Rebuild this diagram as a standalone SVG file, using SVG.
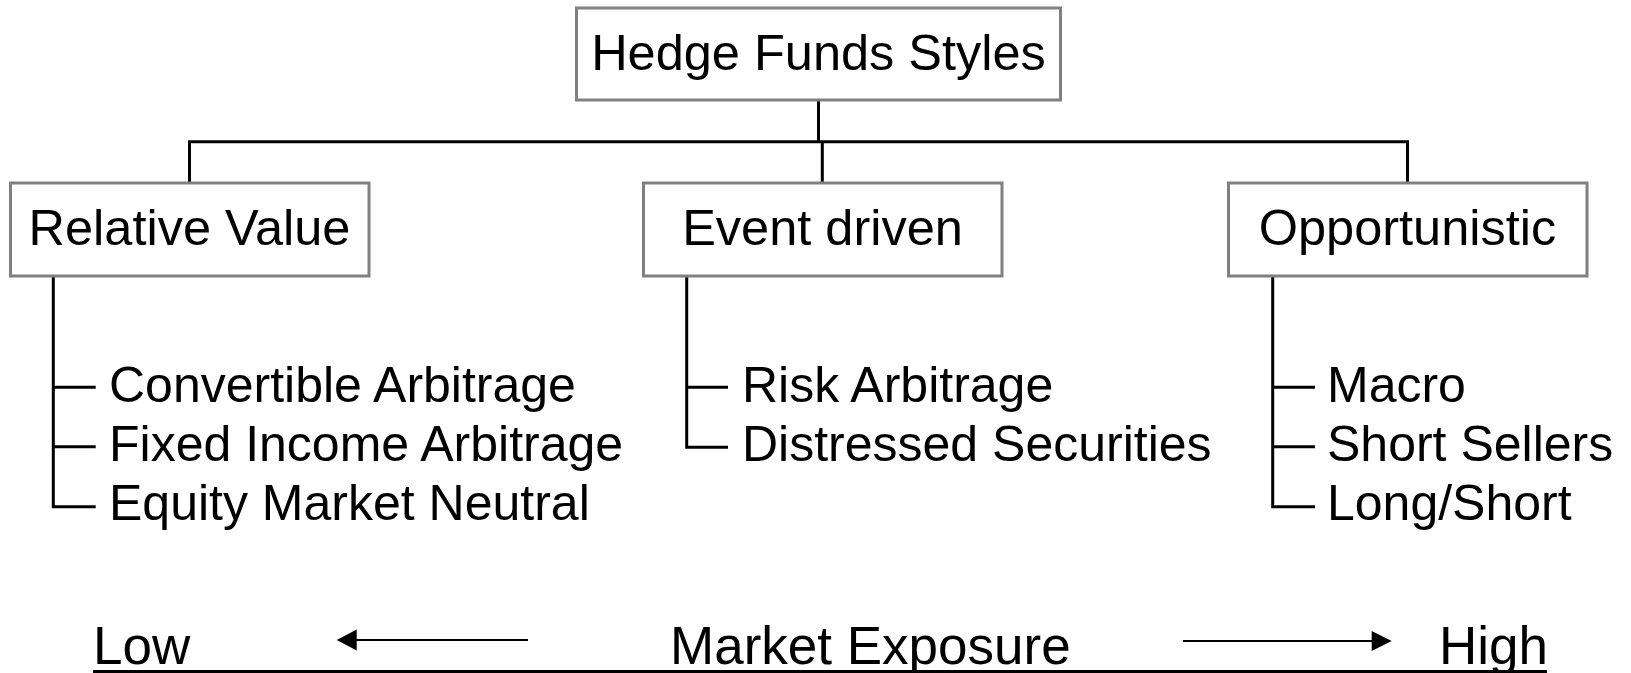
<svg xmlns="http://www.w3.org/2000/svg" width="1631" height="673" viewBox="0 0 1631 673">
<style>
.box{fill:#fff;stroke:#808080;stroke-width:3}
.t{font-family:"Liberation Sans",Arial,sans-serif;fill:#000}
.lbl{font-size:50.5px;text-anchor:middle}
.item{font-size:50px}
.axis{font-size:53px}
.conn{fill:none;stroke:#000;stroke-width:3;stroke-linejoin:miter;stroke-linecap:butt}
.arr{fill:none;stroke:#000;stroke-width:2}
</style>
<rect width="1631" height="673" fill="#fff"/>
<g id="connectors">
<polyline class="conn" points="818.5,100 818.5,141.7"/>
<polyline class="conn" points="189.5,182.7 189.5,141.7 1407.5,141.7 1407.5,182.7"/>
<polyline class="conn" points="822.3,141.7 822.3,182.7"/>
<polyline class="conn" points="53.3,276 53.3,506.7 95.7,506.7"/>
<line class="conn" x1="53.3" y1="387.3" x2="95.7" y2="387.3"/>
<line class="conn" x1="53.3" y1="446.7" x2="95.7" y2="446.7"/>
<polyline class="conn" points="686.7,276 686.7,447.3 728,447.3"/>
<line class="conn" x1="686.7" y1="387.3" x2="728" y2="387.3"/>
<polyline class="conn" points="1272.7,276 1272.7,506.7 1315,506.7"/>
<line class="conn" x1="1272.7" y1="387.3" x2="1315" y2="387.3"/>
<line class="conn" x1="1272.7" y1="446.7" x2="1315" y2="446.7"/>
</g>
<g id="root">
<rect class="box" x="576.5" y="8" width="484" height="92"/>
<text class="t lbl" x="818.5" y="70">Hedge Funds Styles</text>
</g>
<g id="relative-value">
<rect class="box" x="10.5" y="183" width="358.5" height="93"/>
<text class="t lbl" x="189.5" y="245">Relative Value</text>
<text class="t item" x="109" y="401.7">Convertible Arbitrage</text>
<text class="t item" x="109" y="460.7">Fixed Income Arbitrage</text>
<text class="t item" x="109" y="520">Equity Market Neutral</text>
</g>
<g id="event-driven">
<rect class="box" x="643.5" y="183" width="358.5" height="93"/>
<text class="t lbl" x="822.5" y="245">Event driven</text>
<text class="t item" x="742" y="401.7">Risk Arbitrage</text>
<text class="t item" x="742" y="460.5">Distressed Securities</text>
</g>
<g id="opportunistic">
<rect class="box" x="1228.5" y="183" width="358.5" height="93"/>
<text class="t lbl" x="1407.5" y="245">Opportunistic</text>
<text class="t item" x="1327" y="401.7">Macro</text>
<text class="t item" x="1327" y="460.5">Short Sellers</text>
<text class="t item" x="1327" y="520">Long/Short</text>
</g>
<g id="axis">
<text class="t axis" x="93" y="664">Low</text>
<text class="t axis" x="670" y="664">Market Exposure</text>
<text class="t axis" x="1439" y="664">High</text>
<line x1="528" y1="640" x2="354" y2="640" class="arr"/>
<polygon points="336.7,640 356.7,629.5 356.7,650.5" fill="#000"/>
<line x1="1183" y1="641" x2="1374" y2="641" class="arr"/>
<polygon points="1391.7,641 1371.7,631 1371.7,651" fill="#000"/>
<line x1="93" y1="671.5" x2="1547" y2="671.5" stroke="#000" stroke-width="3"/>
</g>
</svg>
